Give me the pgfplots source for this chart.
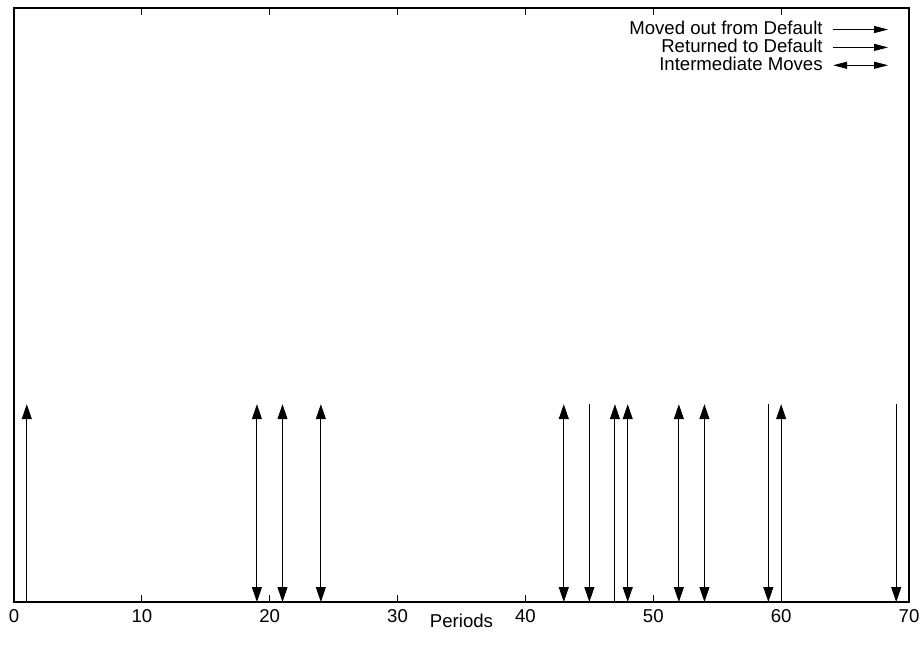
\documentclass[border=0pt]{standalone}
\usepackage{pgfplots}
\pgfplotsset{compat=1.18}
\usetikzlibrary{arrows.meta}
\usepackage{fontspec}
\setmainfont{Liberation Sans}

\pgfplotstableread{
x y u v
1 0 0 0.333
47 0 0 0.333
60 0 0 0.333
}\upt
\pgfplotstableread{
x y u v
45 0.333 0 -0.333
59 0.333 0 -0.333
69 0.333 0 -0.333
}\downt
\pgfplotstableread{
x y u v
19 0 0 0.333
21 0 0 0.333
24 0 0 0.333
43 0 0 0.333
48 0 0 0.333
52 0 0 0.333
54 0 0 0.333
}\botht

\begin{document}
\fontsize{9.3}{11}\selectfont
\begin{tikzpicture}
\begin{axis}[
  scale only axis, width=447.5pt, height=297pt,
  xmin=0, xmax=70, ymin=0, ymax=1,
  xtick={0,10,...,70}, ytick=\empty,
  tick align=inside, major tick length=3.5pt,
  /pgf/number format/assume math mode=true,
  tick label style={font=\fontsize{9.3}{11}\selectfont},
  xticklabel style={yshift=-0.5pt},
  xlabel={Periods},
  xlabel style={at={(axis description cs:0.5,0)}, anchor=north, yshift=-2.5pt, font=\fontsize{9.3}{11}\selectfont},
  axis line style={line width=0.75pt},
  tick style={line width=0.6pt, black},
  legend style={draw=none, fill=none, at={(1,1)}, anchor=north east, xshift=-7pt, yshift=-2.5pt,
     font=\fontsize{9.3}{11}\selectfont, row sep=-3.2pt},
  legend cell align=right, legend plot pos=right,
  clip=false,
]
\addplot[black, line width=0.5pt, quiver={u=\thisrow{u}, v=\thisrow{v}},
  -{Triangle[length=7.5pt,width=5pt]},
  legend image code/.code={\path[-] (0pt,0pt); \draw[black,line width=0.5pt,-{Triangle[length=7pt,width=3.5pt]}] (3pt,0pt) -- (30.5pt,0pt);}]
  table[x=x,y=y] {\upt};
\addlegendentry{Moved out from Default}
\addplot[black, line width=0.5pt, quiver={u=\thisrow{u}, v=\thisrow{v}},
  -{Triangle[length=7.5pt,width=5pt]},
  legend image code/.code={\path[-] (0pt,0pt); \draw[black,line width=0.5pt,-{Triangle[length=7pt,width=3.5pt]}] (3pt,0pt) -- (30.5pt,0pt);}]
  table[x=x,y=y] {\downt};
\addlegendentry{Returned to Default}
\addplot[black, line width=0.5pt, quiver={u=\thisrow{u}, v=\thisrow{v}},
  {Triangle[length=7.5pt,width=5pt]}-{Triangle[length=7.5pt,width=5pt]},
  legend image code/.code={\path[-] (0pt,0pt); \draw[black,line width=0.5pt,{Triangle[length=7pt,width=3.5pt]}-{Triangle[length=7pt,width=3.5pt]}] (3pt,0pt) -- (30.5pt,0pt);}]
  table[x=x,y=y] {\botht};
\addlegendentry{Intermediate Moves}
\coordinate (bl) at (rel axis cs:0,0);
\coordinate (tr) at (rel axis cs:1,1);
\end{axis}
\pgfresetboundingbox
\path ([shift={(-7pt,-28.5pt)}]bl) rectangle ([shift={(7pt,4pt)}]tr);
\end{tikzpicture}
\end{document}
